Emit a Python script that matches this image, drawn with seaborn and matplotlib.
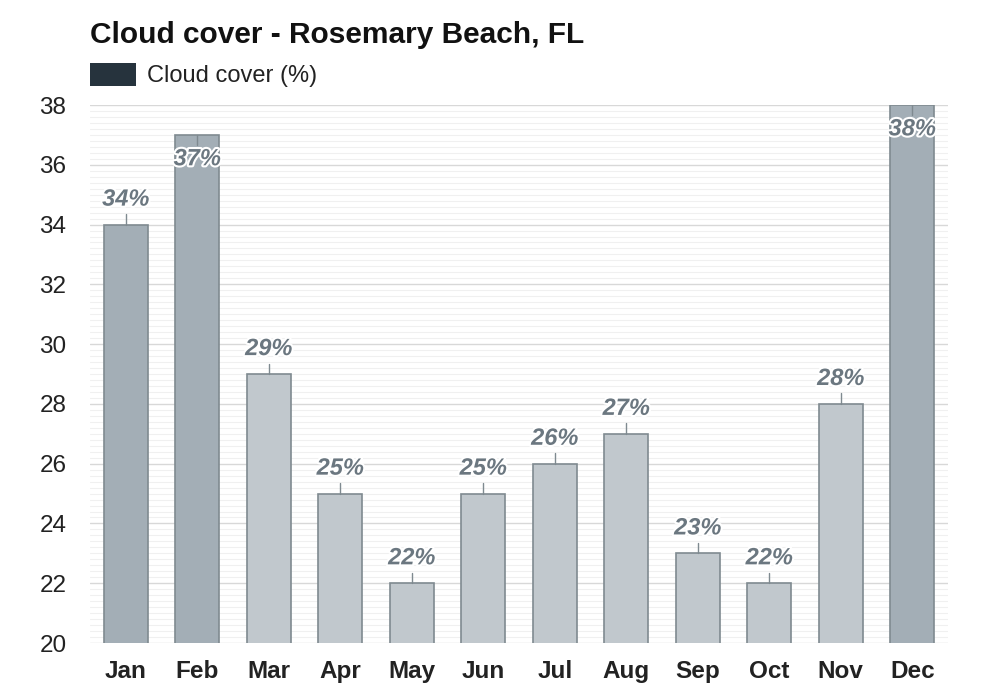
import matplotlib
matplotlib.use("Agg")
import matplotlib.pyplot as plt
import matplotlib.patheffects as pe
from matplotlib.ticker import MultipleLocator
import seaborn as sns
import pandas as pd

months = ["Jan", "Feb", "Mar", "Apr", "May", "Jun", "Jul", "Aug", "Sep", "Oct", "Nov", "Dec"]
cloud = [34, 37, 29, 25, 22, 25, 26, 27, 23, 22, 28, 38]
labels = ["34%", "37%", "29%", "25%", "22%", "25%", "26%", "27%", "23%", "22%", "28%", "38%"]

sns.set_theme(style="white")
plt.rcParams['font.family'] = ['Liberation Sans', 'DejaVu Sans']

df = pd.DataFrame({"month": months, "cloud": cloud})
dark, light = "#a3aeb6", "#c1c8cd"
palette = [dark if v >= 30 else light for v in cloud]

fig = plt.figure(figsize=(10, 7), dpi=100)
ax = fig.add_axes([0.09, 0.0814, 0.858, 0.7686])

sns.barplot(data=df, x="month", y="cloud", hue="month", palette=palette, legend=False,
            saturation=1, width=0.62, edgecolor="#7f8a90", linewidth=1.2, ax=ax, zorder=3)

ax.set_ylim(20, 38)
ax.set_xlim(-0.5, 11.5)
ax.yaxis.set_major_locator(MultipleLocator(2))
ax.yaxis.set_minor_locator(MultipleLocator(0.2))
ax.grid(axis="y", which="major", color="#d8d8d8", linewidth=1, zorder=0)
ax.grid(axis="y", which="minor", color="#f0f0f0", linewidth=0.8, zorder=0)
ax.set_axisbelow(True)
for s in ax.spines.values():
    s.set_visible(False)
ax.set_xlabel("")
ax.set_ylabel("")
ax.tick_params(axis="y", which="both", length=0, labelsize=17.5, colors="#222222", pad=17)
ax.tick_params(axis="x", length=0, labelsize=17.5, pad=12)
for t in ax.get_xticklabels():
    t.set_fontweight("bold")
    t.set_color("#222222")

stroke = [pe.withStroke(linewidth=3, foreground="white")]
for i, (v, lab) in enumerate(zip(cloud, labels)):
    if v + 1.2 > 38:
        ax.plot([i, i], [v, v - 0.35], color="#7f8a90", linewidth=1, zorder=4)
        y = v - 0.8
    else:
        ax.plot([i, i], [v, v + 0.35], color="#7f8a90", linewidth=1, zorder=4)
        y = v + 0.85
    ax.text(i, y, lab, ha="center", va="center", fontsize=17, fontweight="bold",
            fontstyle="italic", color="#6b7780", path_effects=stroke, zorder=5)

fig.text(0.09, 0.95, "Cloud cover - Rosemary Beach, FL", fontsize=21.5, fontweight="bold",
         color="#111111", ha="left", va="center")
fig.patches.append(matplotlib.patches.Rectangle((0.09, 0.877), 0.046, 0.033, transform=fig.transFigure,
                                                facecolor="#26333d", edgecolor="none"))
fig.text(0.147, 0.892, "Cloud cover (%)", fontsize=17, color="#222222", ha="left", va="center")

fig.savefig("out.png", dpi=100, facecolor="white")
